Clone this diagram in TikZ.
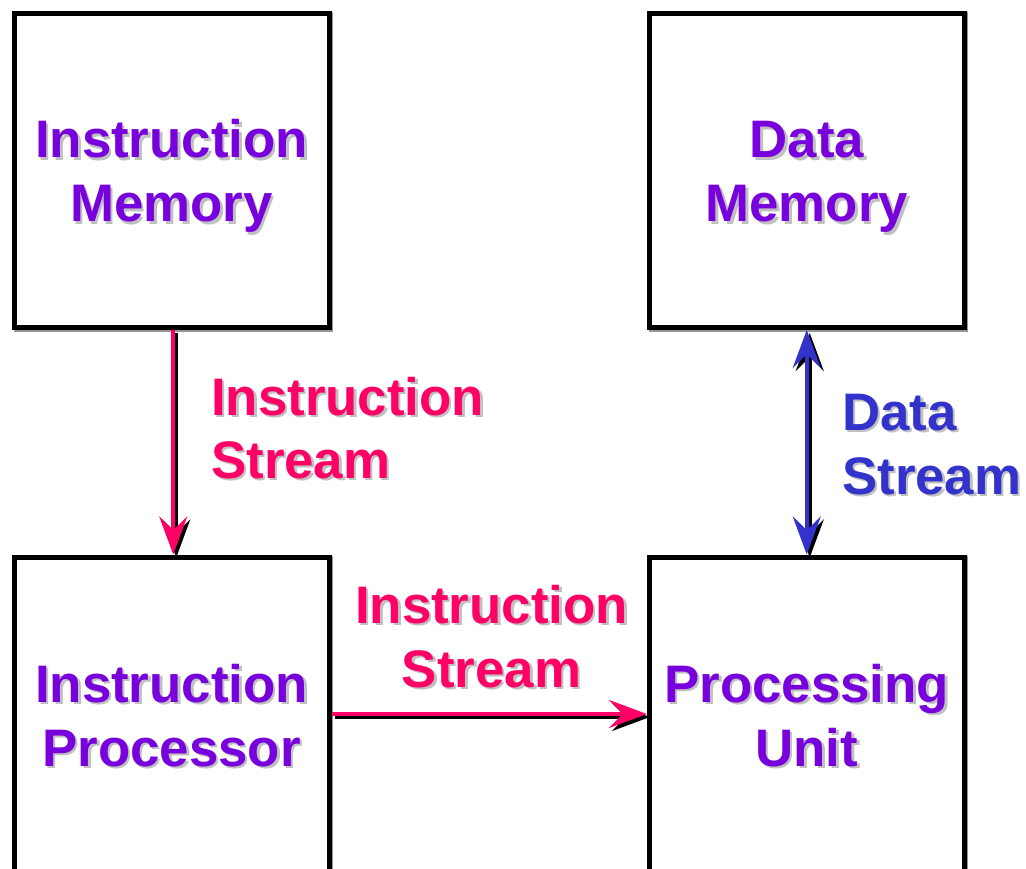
\documentclass[tikz,border=0pt]{standalone}
\usepackage{fontspec}
\setmainfont{Liberation Sans}
\usetikzlibrary{arrows.meta}

\definecolor{txtpurple}{RGB}{119,0,221}
\definecolor{streampink}{RGB}{255,0,102}
\definecolor{streamblue}{RGB}{51,51,204}
\definecolor{softshadow}{RGB}{192,192,192}
\definecolor{edgeshadow}{RGB}{150,150,150}

% label line with a soft grey drop shadow behind it
\newcommand\shadowlabel[4]{%
  \node[lbl,text=softshadow,xshift=2.5pt,yshift=-2.5pt] at (#2) {#4};
  \node[lbl,text=#3] (#1) at (#2) {#4};}

\begin{document}
\begin{tikzpicture}[x=1pt,y=-1pt,
  unit/.style={draw=black,line width=5pt,fill=white,rectangle,inner sep=0pt,
    minimum width=314.5pt,minimum height=314pt,
    preaction={draw=edgeshadow,line width=5pt,transform canvas={xshift=1.5pt,yshift=-1.5pt}}},
  lbl/.style={font=\bfseries\fontsize{52.8}{64}\selectfont,inner sep=0pt,anchor=base},
  flow/.style={line width=4pt,-{Stealth[length=38pt,width=28pt,inset=14pt]}},
  bothflow/.style={line width=4pt,{Stealth[length=38pt,width=28pt,inset=14pt]}-{Stealth[length=38pt,width=28pt,inset=14pt]}},
  flowshadow/.style={draw=black,fill=black,transform canvas={xshift=3pt,yshift=-3pt}}]

\useasboundingbox (0,0) rectangle (1026,869);
\clip (0,0) rectangle (1026,869);

% the four units
\node[unit] (im) at (171.75,170.5) {};
\node[unit] (dm) at (806.75,170.5) {};
\node[unit] (ip) at (171.75,714) {};
\node[unit] (pu) at (806.75,714) {};

% unit titles
\shadowlabel{imA}{171.5,158}{txtpurple}{Instruction}
\shadowlabel{imB}{171.5,222}{txtpurple}{Memory}
\shadowlabel{dmA}{806.75,158}{txtpurple}{Data}
\shadowlabel{dmB}{806.75,222}{txtpurple}{Memory}
\shadowlabel{ipA}{171.5,702}{txtpurple}{Instruction}
\shadowlabel{ipB}{171.5,766}{txtpurple}{Processor}
\shadowlabel{puA}{806.75,702}{txtpurple}{Processing}
\shadowlabel{puB}{806.75,766}{txtpurple}{Unit}

% connectors, each with a dark offset shadow
\draw[flow,flowshadow] ([xshift=1.5pt]im.south) -- ([xshift=1.5pt]ip.north);
\draw[flow,draw=streampink,fill=streampink] ([xshift=1.5pt]im.south) -- ([xshift=1.5pt]ip.north);

\draw[flow,flowshadow] (ip.east) -- (pu.west);
\draw[flow,draw=streampink,fill=streampink] (ip.east) -- (pu.west);

\draw[bothflow,flowshadow] (dm.south) -- (pu.north);
\draw[bothflow,draw=streamblue,fill=streamblue] (dm.south) -- (pu.north);

% stream labels
\node[lbl,anchor=base west,text=softshadow,xshift=2.5pt,yshift=-2.5pt] at (211,415) {Instruction};
\node[lbl,anchor=base west,text=streampink] (isA) at (211,415) {Instruction};
\node[lbl,anchor=base west,text=softshadow,xshift=2.5pt,yshift=-2.5pt] at (211,478) {Stream};
\node[lbl,anchor=base west,text=streampink] (isB) at (211,478) {Stream};

\shadowlabel{hsA}{491.5,623}{streampink}{Instruction}
\shadowlabel{hsB}{491.5,687}{streampink}{Stream}

\node[lbl,anchor=base west,text=softshadow,xshift=2.5pt,yshift=-2.5pt] at (842,430) {Data};
\node[lbl,anchor=base west,text=streamblue] (dsA) at (842,430) {Data};
\node[lbl,anchor=base west,text=softshadow,xshift=2.5pt,yshift=-2.5pt] at (842,494) {Stream};
\node[lbl,anchor=base west,text=streamblue] (dsB) at (842,494) {Stream};
\end{tikzpicture}
\end{document}
